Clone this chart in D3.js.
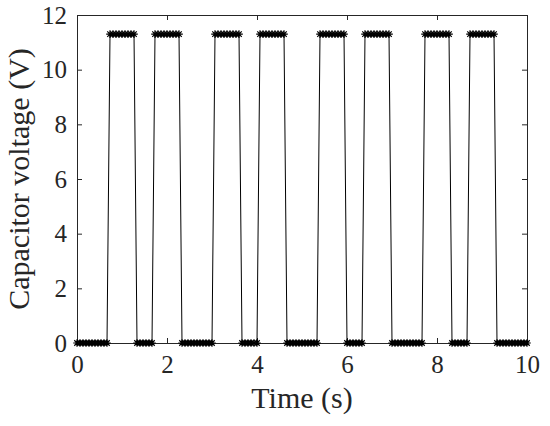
<!DOCTYPE html>
<html>
<head>
<meta charset="utf-8">
<script src="https://cdn.jsdelivr.net/npm/d3@7"></script>
<style>
  body { margin: 0; background: #fff; }
  .axis path, .axis line { stroke: #262626; stroke-width: 1; }
</style>
</head>
<body>
<svg id="chart" width="550" height="426"></svg>
<script>
// Sampled capacitor voltage, one sample every 1/15 s from 0 to 10 s
const sampleStep = 1 / 15;
const H = 11.3;
const voltage = [
  0, 0, 0, 0, 0, 0, 0, 0, 0, 0, 0, H, H, H, H,
  H, H, H, H, H, 0, 0, 0, 0, 0, 0, H, H, H, H,
  H, H, H, H, H, 0, 0, 0, 0, 0, 0, 0, 0, 0, 0,
  0, H, H, H, H, H, H, H, H, H, 0, 0, 0, 0, 0,
  0, H, H, H, H, H, H, H, H, H, 0, 0, 0, 0, 0,
  0, 0, 0, 0, 0, 0, H, H, H, H, H, H, H, H, H,
  0, 0, 0, 0, 0, 0, H, H, H, H, H, H, H, H, H,
  0, 0, 0, 0, 0, 0, 0, 0, 0, 0, 0, H, H, H, H,
  H, H, H, H, H, 0, 0, 0, 0, 0, 0, H, H, H, H,
  H, H, H, H, H, 0, 0, 0, 0, 0, 0, 0, 0, 0, 0,
  0
];
const timeTicks = [0, 2, 4, 6, 8, 10];
const voltTicks = [0, 2, 4, 6, 8, 10, 12];

const serif = '"Liberation Serif", "Times New Roman", serif';
const points = voltage.map((v, i) => ({ t: i * sampleStep, v }));

const svg = d3.select('#chart');
const margin = { left: 77, right: 23, top: 15, bottom: 83 };
const width = 550 - margin.left - margin.right;
const height = 426 - margin.top - margin.bottom;

const x = d3.scaleLinear().domain([0, 10]).range([0, width]);
const y = d3.scaleLinear().domain([0, 12]).range([height, 0]);

const g = svg.append('g').attr('transform', `translate(${margin.left},${margin.top})`);

function styleTicks(sel) {
  sel.attr('font-family', serif).attr('font-size', 25);
  sel.selectAll('text').attr('fill', '#262626');
}

// axes: ticks point inward, box on all four sides
g.append('g')
  .attr('class', 'axis')
  .attr('transform', `translate(0,${height})`)
  .call(d3.axisBottom(x).tickValues(timeTicks).tickSizeInner(-5).tickSizeOuter(0).tickPadding(12))
  .call(styleTicks)
  .selectAll('text').attr('dy', '0.71em');

g.append('g')
  .attr('class', 'axis')
  .call(d3.axisTop(x).tickValues(timeTicks).tickSizeInner(-5).tickSizeOuter(0).tickFormat(''));

g.append('g')
  .attr('class', 'axis')
  .call(d3.axisLeft(y).tickValues(voltTicks).tickSizeInner(-5).tickSizeOuter(0).tickPadding(10))
  .call(styleTicks);

g.append('g')
  .attr('class', 'axis')
  .attr('transform', `translate(${width},0)`)
  .call(d3.axisRight(y).tickValues(voltTicks).tickSizeInner(-5).tickSizeOuter(0).tickFormat(''));

// signal line
const line = d3.line().x((d) => x(d.t)).y((d) => y(d.v));
g.append('path')
  .datum(points)
  .attr('fill', 'none')
  .attr('stroke', '#000')
  .attr('stroke-width', 1)
  .attr('d', line);

// asterisk markers
const r = 3.8, rd = r * 0.72;
const star = `M${-r},0L${r},0M0,${-r}L0,${r}M${-rd},${-rd}L${rd},${rd}M${-rd},${rd}L${rd},${-rd}`;
g.append('g')
  .selectAll('path')
  .data(points)
  .join('path')
  .attr('transform', (d) => `translate(${x(d.t)},${y(d.v)})`)
  .attr('d', star)
  .attr('fill', 'none')
  .attr('stroke', '#000')
  .attr('stroke-width', 1.2);

// labels
svg.append('text')
  .attr('x', margin.left + width / 2)
  .attr('y', 408)
  .attr('text-anchor', 'middle')
  .attr('font-family', serif)
  .attr('font-size', 30)
  .attr('fill', '#262626')
  .text('Time (s)');

svg.append('text')
  .attr('transform', `translate(29,${margin.top + height / 2}) rotate(-90)`)
  .attr('text-anchor', 'middle')
  .attr('font-family', serif)
  .attr('font-size', 30)
  .attr('fill', '#262626')
  .text('Capacitor voltage (V)');
</script>
</body>
</html>
